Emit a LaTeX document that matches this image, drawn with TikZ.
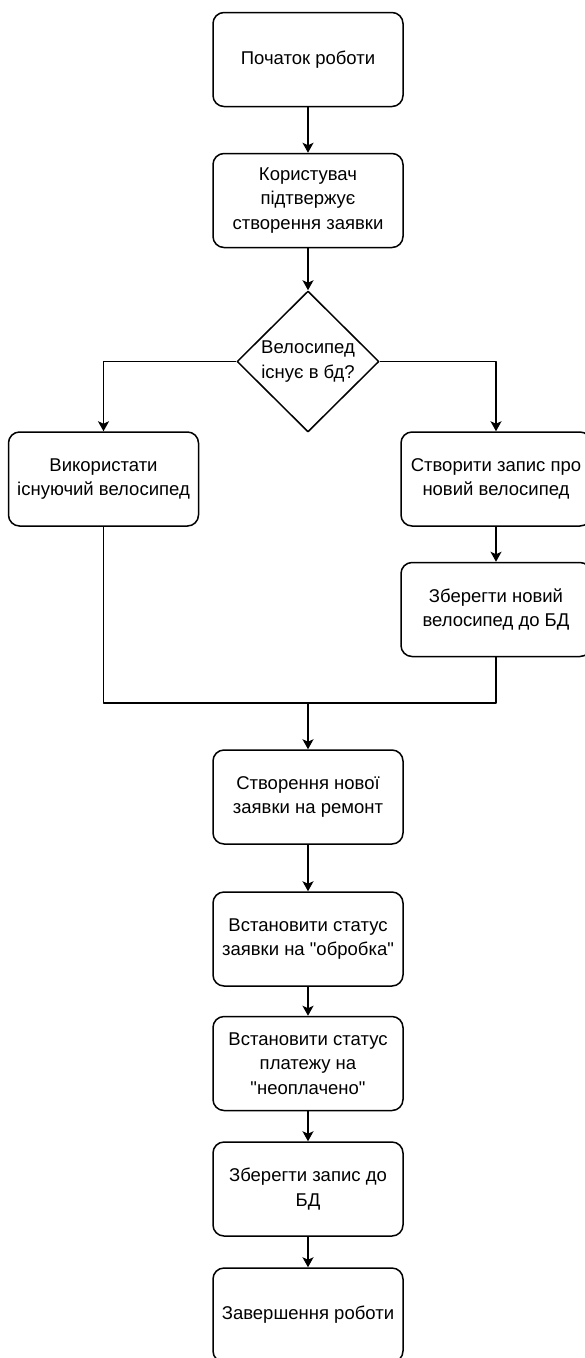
\documentclass[tikz,border=0pt]{standalone}
\usepackage{fontspec}
\setmainfont{Liberation Sans}[Ligatures=TeXOff]
\usetikzlibrary{shapes.geometric,arrows.meta}
\begin{document}
\begin{tikzpicture}[x=1pt,y=-1pt,line join=round,line width=1.5pt,>={Stealth[length=10pt,width=11pt,inset=2.5pt]},
	font=\fontsize{18.5}{24.5}\selectfont,
	box/.style={draw,rounded corners=11pt,align=center,minimum width=190pt,minimum height=94pt,inner sep=2pt},
	decision/.style={draw,diamond,align=center,minimum width=142pt,minimum height=141pt,inner sep=0pt}]
	\useasboundingbox (0,0) rectangle (584,1358);
	\def \mx{308};
	\node[box] (start) at (\mx,59.5) {Початок роботи};
	\node[box] (user) at (\mx,200.5) {Користувач\\ підтвержує\\ створення заявки};
	\node[decision] (dec) at (\mx,361.5) {Велосипед\\ існує в бд?};
	\node[box] (old) at (103.5,479) {Використати\\ існуючий велосипед};
	\node[box] (new) at (496,479) {Створити запис про\\ новий велосипед};
	\node[box] (savebike) at (496,609.5) {Зберегти новий\\ велосипед до БД};
	\coordinate (merge) at (\mx,703);
	\node[box] (order) at (\mx,797) {Створення нової\\ заявки на ремонт};
	\node[box] (stat) at (\mx,939) {Встановити статус\\ заявки на "обробка"};
	\node[box] (pay) at (\mx,1063.5) {Встановити статус\\ платежу на\\ "неоплачено"};
	\node[box] (save) at (\mx,1189) {Зберегти запис до\\ БД};
	\node[box] (finish) at (\mx,1315) {Завершення роботи};
	\foreach \a/\b in {start/user,user/dec,new/savebike,merge/order,order/stat,stat/pay,pay/save,save/finish}{\draw[->] (\a) -- (\b);}
	\draw[->] (dec.west) -| (old.north);
	\draw[->] (dec.east) -| (new.north);
	%	\draw (old.south) |- (merge);
	\draw (old.south) -- (old.south |- merge) -- (savebike.south |- merge) -- (savebike.south);
\end{tikzpicture}
\end{document}
